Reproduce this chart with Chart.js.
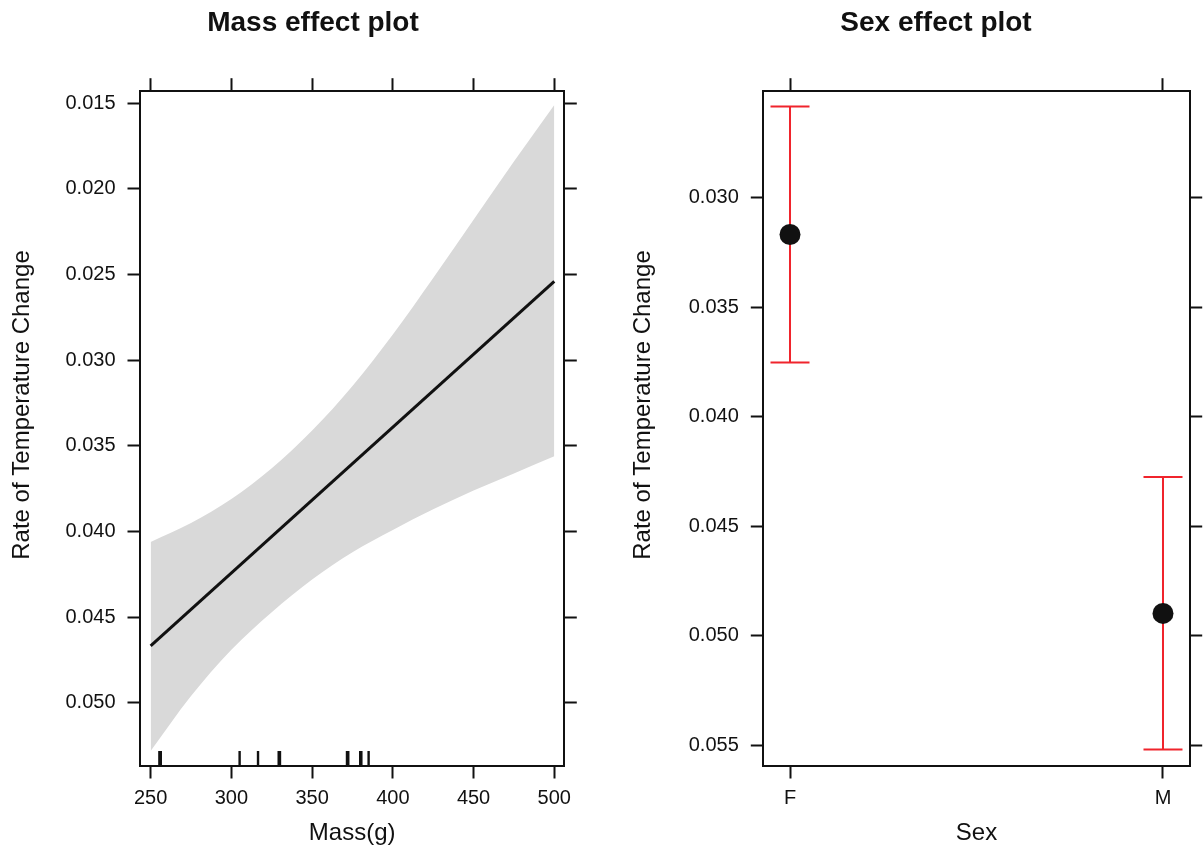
<!DOCTYPE html>
<html>
<head>
<meta charset="utf-8">
<script src="https://cdn.jsdelivr.net/npm/chart.js@4.4.1/dist/chart.umd.min.js"></script>
<style>
  html, body { margin: 0; padding: 0; background: #fff; }
  #wrap { position: relative; width: 1204px; height: 852px; }
  .panel { position: absolute; top: 0; width: 602px; height: 852px; }
  #massPanel { left: 0; }
  #sexPanel { left: 602px; }
</style>
</head>
<body>
<div id="wrap">
  <div class="panel" id="massPanel"><canvas id="massChart"></canvas></div>
  <div class="panel" id="sexPanel"><canvas id="sexChart"></canvas></div>
</div>
<script>
// mass panel: fitted line, confidence band and rug of observed masses
const massGrid = [250, 275, 300, 325, 350, 375, 400, 425, 450, 475, 500];
const massBandTop = [0.0406, 0.0395, 0.0381, 0.0363, 0.0341, 0.0315, 0.0285, 0.0252, 0.0218, 0.0184, 0.0151];
const massBandBottom = [0.0528, 0.0496, 0.0469, 0.0447, 0.0428, 0.0412, 0.0399, 0.0387, 0.0376, 0.0366, 0.0356];
const fitMass = [250, 500];
const fitRate = [0.04667, 0.02539];
const rugMass = [255.4, 256.3, 305.1, 316.5, 329.3, 330.1, 371.6, 372.4, 379.8, 380.5, 385.0];
const massTicks = [250, 300, 350, 400, 450, 500];
const massRateTicks = [0.015, 0.020, 0.025, 0.030, 0.035, 0.040, 0.045, 0.050];

// sex panel: point estimate with interval
const sexLevels = ['F', 'M'];
const sexFit = [0.03168, 0.04899];
const sexLow = [0.02583, 0.04276];
const sexHigh = [0.03753, 0.05521];
const sexRateTicks = [0.030, 0.035, 0.040, 0.045, 0.050, 0.055];

const ink = '#111';
const red = '#f0242c';
const family = "'Liberation Sans', Arial, sans-serif";
Chart.defaults.font.family = family;
Chart.defaults.color = ink;

const tickFont = { size: 20 };
const axisFont = { size: 24 };

// main title and y label drawn at set places, like the lattice layout
const panelText = {
    id: 'panelText',
    afterDraw(chart, args, opts) {
        const ctx = chart.ctx;
        ctx.save();
        ctx.fillStyle = ink;
        ctx.textAlign = 'center';
        ctx.textBaseline = 'middle';
        ctx.font = 'bold 28px ' + family;
        ctx.fillText(opts.title, opts.titleX, 23);

        ctx.font = '24px ' + family;
        ctx.translate(opts.ylabX, 405);
        ctx.rotate(-Math.PI / 2);
        ctx.fillText(opts.ylab, 0, 0);
        ctx.restore();
    }
};

const rugPlugin = {
    id: 'rug',
    afterDatasetsDraw(chart) {
        if (!chart.options.plugins.rug) return;
        const { ctx, chartArea, scales } = chart;
        ctx.save();
        ctx.strokeStyle = ink;
        ctx.lineWidth = 2.4;
        rugMass.forEach(m => {
            const px = scales.x.getPixelForValue(m);
            ctx.beginPath();
            ctx.moveTo(px, chartArea.bottom);
            ctx.lineTo(px, chartArea.bottom - 15);
            ctx.stroke();
        });
        ctx.restore();
    }
};

const errorBars = {
    id: 'errorBars',
    beforeDatasetsDraw(chart) {
        if (!chart.options.plugins.errorBars) return;
        const { ctx, scales } = chart;
        ctx.save();
        ctx.strokeStyle = red;
        ctx.lineWidth = 2;
        sexLevels.forEach((s, i) => {
            const px = scales.x.getPixelForValue(i);
            const y1 = scales.y.getPixelForValue(sexLow[i]);
            const y2 = scales.y.getPixelForValue(sexHigh[i]);
            ctx.beginPath();
            ctx.moveTo(px, y1); ctx.lineTo(px, y2);
            ctx.moveTo(px - 19.5, y1); ctx.lineTo(px + 19.5, y1);
            ctx.moveTo(px - 19.5, y2); ctx.lineTo(px + 19.5, y2);
            ctx.stroke();
        });
        ctx.restore();
    }
};

function frameAxis(position, min, max, tickValues, size, extra) {
    const horiz = position == 'top' || position == 'bottom';
    return Object.assign({
        type: 'linear',
        position: position,
        min: min,
        max: max,
        bounds: 'data',
        afterBuildTicks: axis => { axis.ticks = tickValues.map(v => ({ value: v })); },
        afterFit: axis => { if (horiz) axis.height = size; else axis.width = size; },
        grid: { drawOnChartArea: false, drawTicks: true, tickLength: 12.5, tickWidth: 2, tickColor: ink },
        border: { display: true, color: ink, width: 2 },
        ticks: { display: false }
    }, extra);
}

new Chart(document.getElementById('massChart'), {
    type: 'line',
    data: {
        datasets: [
            {
                data: massGrid.map((m, i) => ({ x: m, y: massBandTop[i] })),
                borderWidth: 0,
                pointRadius: 0,
                fill: false,
                cubicInterpolationMode: 'monotone',
                order: 2
            },
            {
                data: massGrid.map((m, i) => ({ x: m, y: massBandBottom[i] })),
                borderWidth: 0,
                pointRadius: 0,
                fill: '-1',
                backgroundColor: '#d9d9d9',
                cubicInterpolationMode: 'monotone',
                order: 2
            },
            {
                data: fitMass.map((m, i) => ({ x: m, y: fitRate[i] })),
                borderColor: ink,
                borderWidth: 3,
                pointRadius: 0,
                fill: false,
                order: 1
            }
        ]
    },
    options: {
        responsive: true,
        maintainAspectRatio: false,
        animation: false,
        layout: { padding: { left: 0, top: 78, right: 25, bottom: 0 } },
        plugins: {
            legend: { display: false },
            tooltip: { enabled: false },
            panelText: { title: 'Mass effect plot', titleX: 313, ylab: 'Rate of Temperature Change', ylabX: 22 },
            rug: true
        },
        scales: {
            x: frameAxis('bottom', 243.4, 506.2, massTicks, 86, {
                ticks: { display: true, color: ink, font: tickFont, padding: 8, maxRotation: 0 },
                title: { display: true, text: 'Mass(g)', color: ink, font: axisFont, padding: { top: 0, bottom: 4.6 } }
            }),
            x2: frameAxis('top', 243.4, 506.2, massTicks, 12.7),
            y: frameAxis('left', 0.014264, 0.053679, massRateTicks, 140, {
                reverse: true,
                ticks: { display: true, color: ink, font: tickFont, padding: 12, callback: v => v.toFixed(3) }
            }),
            y2: frameAxis('right', 0.014264, 0.053679, massRateTicks, 12.7, { reverse: true })
        }
    },
    plugins: [panelText, rugPlugin]
});

new Chart(document.getElementById('sexChart'), {
    type: 'scatter',
    data: {
        datasets: [{
            data: sexLevels.map((s, i) => ({ x: i, y: sexFit[i] })),
            pointRadius: 10.5,
            backgroundColor: ink,
            borderWidth: 0
        }]
    },
    options: {
        responsive: true,
        maintainAspectRatio: false,
        animation: false,
        layout: { padding: { left: 0, top: 78, right: 2.7, bottom: 0 } },
        plugins: {
            legend: { display: false },
            tooltip: { enabled: false },
            panelText: { title: 'Sex effect plot', titleX: 334, ylab: 'Rate of Temperature Change', ylabX: 41 },
            errorBars: true
        },
        scales: {
            x: frameAxis('bottom', -0.0716, 1.0716, [0, 1], 86, {
                ticks: { display: true, color: ink, font: tickFont, padding: 8, maxRotation: 0, callback: v => sexLevels[v] },
                title: { display: true, text: 'Sex', color: ink, font: axisFont, padding: { top: 0, bottom: 4.6 } }
            }),
            x2: frameAxis('top', -0.0716, 1.0716, [0, 1], 12.7),
            y: frameAxis('left', 0.025112, 0.055959, sexRateTicks, 161.3, {
                reverse: true,
                ticks: { display: true, color: ink, font: tickFont, padding: 12, callback: v => v.toFixed(3) }
            }),
            y2: frameAxis('right', 0.025112, 0.055959, sexRateTicks, 11.6, { reverse: true })
        }
    },
    plugins: [panelText, errorBars]
});
</script>
</body>
</html>
